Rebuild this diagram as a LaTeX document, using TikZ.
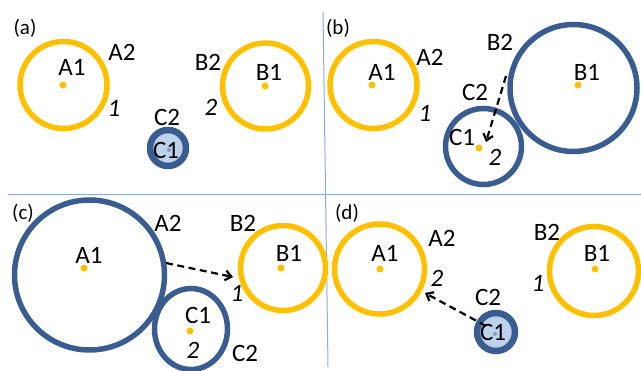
\documentclass[tikz,border=0pt]{standalone}
\usepackage{fontspec}
\setmainfont{Carlito}
\usetikzlibrary{arrows.meta,shapes.geometric}
\definecolor{gold}{RGB}{255,192,0}
\definecolor{navy}{RGB}{58,93,145}
\definecolor{lightc}{RGB}{189,210,236}
\definecolor{linec}{RGB}{143,170,220}
\tikzset{
 ring/.style={circle, draw=gold, line width=5.5pt, inner sep=0pt},
 bring/.style={circle, draw=navy, line width=5.5pt, inner sep=0pt},
 smallc/.style={circle, draw=navy, fill=lightc, line width=6.5pt, inner sep=0pt},
 cdot/.style={circle, fill=gold, inner sep=0pt, minimum size=7pt},
 bdot/.style={circle, fill=navy!60, inner sep=0pt, minimum size=4pt},
 lab/.style={font=\fontsize{25}{25}\selectfont, inner sep=0pt},
 num/.style={font=\fontsize{25}{25}\selectfont\itshape, inner sep=0pt},
 tag/.style={font=\fontsize{21}{21}\selectfont, inner sep=0pt},
 sep/.style={draw=linec, line width=1pt},
 move/.style={line width=2.2pt, dash pattern=on 7pt off 4.5pt, -{Straight Barb[length=6pt,width=10pt]}}
}
\begin{document}
\begin{tikzpicture}[x=1pt,y=-1pt]
\useasboundingbox (0,0) rectangle (641,371);
\clip (0,0) rectangle (641,371);
% separators
\coordinate (v1) at (323,12);
\coordinate (v2) at (328,367);
\coordinate (h1) at (8,195);
\coordinate (h2) at (641,195);
\draw[sep] (v1) -- (v2);
\draw[sep] (h1) -- (h2);

% ---------- (a)
\node[tag] (ta) at (25,28) {(a)};
\node[ring, minimum size=87pt] (aA) at (63.5,85) {};
\node[ring, minimum size=86pt] (aB) at (265.5,86) {};
\node[smallc, minimum size=36pt] (aC) at (168,148) {};
\node[cdot] (aAd) at (63,85) {};
\node[cdot] (aBd) at (265,86) {};
\node[bdot] (aCd) at (169,150) {};
\node[lab] (aA1) at (72,67) {A1};
\node[lab] (aA2) at (122,52) {A2};
\node[num] (an1) at (114,108) {1};
\node[lab] (aB1) at (269,72) {B1};
\node[lab] (aB2) at (208,62) {B2};
\node[num] (an2) at (211,107) {2};
\node[lab] (aC2) at (167,117) {C2};
\node[lab] (aC1) at (166,150) {C1};

% ---------- (b)
\node[tag] (tb) at (338,28) {(b)};
\node[ring, minimum size=87pt] (bA) at (373.5,85) {};
\node[bring, minimum size=127pt] (bB) at (573.5,88) {};
\node[bring, minimum size=76pt] (bC) at (483.5,146.5) {};
\node[cdot] (bAd) at (372,85) {};
\node[cdot] (bBd) at (578,85) {};
\node[cdot] (bCd) at (479,148) {};
\node[lab] (bA1) at (382,72) {A1};
\node[lab] (bA2) at (430,57) {A2};
\node[num] (bn1) at (425,113) {1};
\node[lab] (bB1) at (587,72) {B1};
\node[lab] (bB2) at (500,42) {B2};
\node[lab] (bC2) at (475,92) {C2};
\node[lab] (bC1) at (462,137) {C1};
\node[num] (bn2) at (495,157) {2};
\coordinate (bs) at (506,76);
\coordinate (be) at (486,142);
\draw[move] (bs) -- (be);

% ---------- (c)
\node[tag] (tc) at (23,213) {(c)};
\node[bring, minimum size=150pt] (cA) at (89.5,275) {};
\node[ring, minimum size=85pt] (cB) at (283,268) {};
\node[ellipse, draw=navy, line width=5.5pt, inner sep=0pt, minimum width=73pt, minimum height=81pt] (cC) at (191,329) {};
\node[cdot] (cAd) at (84,268) {};
\node[cdot] (cBd) at (281,268) {};
\node[cdot] (cCd) at (190,331) {};
\node[lab] (cA1) at (89,255) {A1};
\node[lab] (cA2) at (168,223) {A2};
\node[lab] (cB1) at (289,253) {B1};
\node[lab] (cB2) at (243,223) {B2};
\node[num] (cn1) at (237,293) {1};
\node[lab] (cC1) at (198,315) {C1};
\node[num] (cn2) at (193,350) {2};
\node[lab] (cC2) at (245,353) {C2};
\coordinate (cs) at (166,263);
\coordinate (ce) at (233,277);
\draw[move] (cs) -- (ce);

% ---------- (d)
\node[tag] (td) at (347,213) {(d)};
\node[ring, minimum size=90pt] (dA) at (379.5,269) {};
\node[ring, minimum size=89pt] (dB) at (594,271) {};
\node[smallc, minimum size=38pt] (dC) at (496,332) {};
\node[cdot] (dAd) at (380,269) {};
\node[cdot] (dBd) at (595,269) {};
\node[bdot] (dCd) at (495,334) {};
\node[lab] (dA1) at (385,253) {A1};
\node[lab] (dA2) at (442,238) {A2};
\node[num] (dn2) at (437,278) {2};
\node[lab] (dB1) at (597,253) {B1};
\node[lab] (dB2) at (547,232) {B2};
\node[num] (dn1) at (538,283) {1};
\node[lab] (dC2) at (488,297) {C2};
\node[lab] (dC1) at (493,332) {C1};
\coordinate (ds) at (486,326);
\coordinate (de) at (425,293);
\draw[move] (ds) -- (de);
\end{tikzpicture}
\end{document}
